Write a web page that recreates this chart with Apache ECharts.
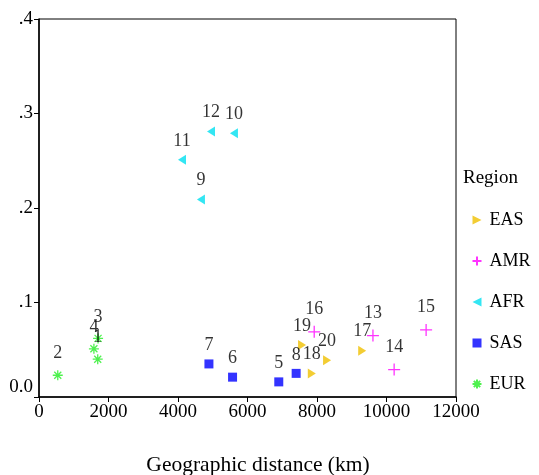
<!DOCTYPE html>
<html>
<head>
<meta charset="utf-8">
<script src="https://cdn.jsdelivr.net/npm/echarts@6/dist/echarts.min.js"></script>
<style>html,body{margin:0;padding:0;background:#fff;}#c{width:539px;height:475px;}</style>
</head>
<body>
<div id="c"></div>
<script>
// Data
var easIds = [18, 19, 20, 17];
var easX = [7850, 7570, 8290, 9300];
var easY = [0.025, 0.055, 0.039, 0.049];

var amrIds = [16, 13, 14, 15];
var amrX = [7920, 9610, 10220, 11140];
var amrY = [0.069, 0.065, 0.029, 0.071];

var afrIds = [12, 10, 11, 9];
var afrX = [4950, 5610, 4115, 4660];
var afrY = [0.281, 0.279, 0.251, 0.209];

var sasIds = [7, 6, 5, 8];
var sasX = [4890, 5570, 6900, 7400];
var sasY = [0.035, 0.021, 0.016, 0.025];

var eurIds = [2, 3, 4, 1];
var eurX = [540, 1700, 1580, 1690];
var eurY = [0.023, 0.062, 0.051, 0.040];

var yTickLabels = {0: '0.0', 0.1: '.1', 0.2: '.2', 0.3: '.3', 0.4: '.4'};

var FONT = 'Liberation Serif';
var RIGHT_TRI = 'path://M0,0L10,5L0,10Z';
var LEFT_TRI = 'path://M10,0L0,5L10,10Z';
var PLUS = 'path://M5,0L5,10M0,5L10,5';
var STAR = 'path://M5,0L5,10M0,5L10,5M1.5,1.5L8.5,8.5M8.5,1.5L1.5,8.5';

function pts(ids, xs, ys) {
  return ids.map(function (id, i) { return [xs[i], ys[i], id]; });
}

var labelCfg = {
  show: true, position: 'top', distance: 5,
  color: '#000', fontFamily: FONT, fontSize: 18,
  formatter: function (p) { return String(p.value[2]); }
};

var chart = echarts.init(document.getElementById('c'), null, {renderer: 'canvas'});
chart.setOption({
  animation: false,
  backgroundColor: '#fff',
  grid: {left: 39, top: 19, right: 83, bottom: 78, show: true, borderColor: '#000', borderWidth: 1},
  xAxis: {
    type: 'value', min: 0, max: 12000, interval: 2000,
    axisLine: {show: true, lineStyle: {color: '#000', width: 1.5}},
    axisTick: {show: true, length: 5, lineStyle: {color: '#000'}},
    splitLine: {show: false},
    axisLabel: {color: '#000', fontFamily: FONT, fontSize: 19, margin: 6,
      formatter: function (v) { return String(v); }}
  },
  yAxis: {
    type: 'value', min: 0, max: 0.4, interval: 0.1,
    axisLine: {show: true, lineStyle: {color: '#000', width: 1.5}},
    axisTick: {show: true, length: 5, lineStyle: {color: '#000'}},
    splitLine: {show: false},
    axisLabel: {
      color: '#000', fontFamily: FONT, fontSize: 19, margin: 6,
      formatter: function (v) {
        var key = Math.round(v * 10) / 10;
        if (key === 0) return '{z|0.0}';
        return yTickLabels[key];
      },
      rich: {z: {fontFamily: FONT, fontSize: 19, color: '#000', padding: [0, 0, 20, 0]}}
    }
  },
  legend: {
    orient: 'vertical', left: 470, top: 211, padding: 0,
    itemWidth: 9, itemHeight: 9, itemGap: 23,
    textStyle: {color: '#000', fontFamily: FONT, fontSize: 18, padding: [0, 0, 0, 3]},
    data: [
      {name: 'EAS', icon: RIGHT_TRI},
      {name: 'AMR', icon: PLUS},
      {name: 'AFR', icon: LEFT_TRI},
      {name: 'SAS', icon: 'rect'},
      {name: 'EUR', icon: STAR}
    ]
  },
  graphic: [
    {type: 'text', left: 463, top: 169, style: {text: 'Region', fontFamily: FONT, fontSize: 19, fill: '#000'}},
    {type: 'text', x: 258, y: 465, style: {text: 'Geographic distance (km)', fontFamily: FONT, fontSize: 21.5, fill: '#000', align: 'center', verticalAlign: 'middle'}}
  ],
  series: [
    {name: 'EAS', type: 'scatter', data: pts(easIds, easX, easY), symbol: RIGHT_TRI, symbolSize: [8, 10],
     itemStyle: {color: '#f0c000'}, label: labelCfg},
    {name: 'AMR', type: 'scatter', data: pts(amrIds, amrX, amrY), symbol: PLUS, symbolSize: 12,
     itemStyle: {color: 'none', borderColor: '#ff00ff', borderWidth: 1.3}, label: labelCfg},
    {name: 'AFR', type: 'scatter', data: pts(afrIds, afrX, afrY), symbol: LEFT_TRI, symbolSize: [8, 10],
     itemStyle: {color: '#00e0f0'}, label: labelCfg},
    {name: 'SAS', type: 'scatter', data: pts(sasIds, sasX, sasY), symbol: 'rect', symbolSize: 9,
     itemStyle: {color: '#0000ff'}, label: labelCfg},
    {name: 'EUR', type: 'scatter', data: pts(eurIds, eurX, eurY), symbol: STAR, symbolSize: 10,
     itemStyle: {color: 'none', borderColor: '#22ee22', borderWidth: 1.3}, label: labelCfg}
  ]
});
</script>
</body>
</html>
